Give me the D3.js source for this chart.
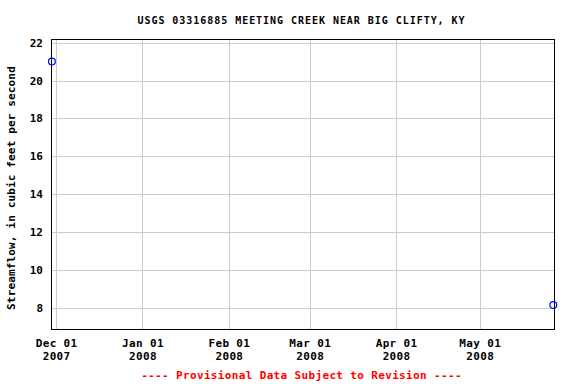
<!DOCTYPE html>
<html><head><meta charset="utf-8">
<script src="https://cdn.jsdelivr.net/npm/d3@7"></script>
<style>body{margin:0;background:#fff}svg{display:block}text{font-family:"DejaVu Sans Mono",monospace;font-weight:bold}</style>
</head><body>
<script>
const title = "USGS 03316885 MEETING CREEK NEAR BIG CLIFTY, KY";
const yLabel = "Streamflow, in cubic feet per second";
const footer = "---- Provisional Data Subject to Revision ----";
const dates = ["2007-11-29T12:00", "2008-05-27T10:00"];
const flows = [21.0, 8.14];
const yTicks = [8, 10, 12, 14, 16, 18, 20, 22];
const xTickDates = ["2007-12-01", "2008-01-01", "2008-02-01", "2008-03-01", "2008-04-01", "2008-05-01"];
const xTickLabels = [["Dec 01","2007"],["Jan 01","2008"],["Feb 01","2008"],["Mar 01","2008"],["Apr 01","2008"],["May 01","2008"]];
const xDomain = ["2007-11-29T04:00", "2008-05-27T16:00"];
const yDomain = [6.875, 22.195];

const W = 576, H = 384;
const m = {l: 51, r: 554, t: 39, b: 329};
const parse = d3.isoParse;
const svg = d3.select("body").append("svg").attr("width", W).attr("height", H);
const x = d3.scaleTime().domain(xDomain.map(parse)).range([m.l, m.r]);
const y = d3.scaleLinear().domain(yDomain).range([m.b, m.t]);

// grid
svg.append("g").selectAll("line.h").data(yTicks).join("line")
  .attr("x1", m.l).attr("x2", m.r).attr("y1", d => Math.round(y(d)) + 0.5).attr("y2", d => Math.round(y(d)) + 0.5)
  .attr("stroke", "#cccccc").attr("stroke-width", 1);
svg.append("g").selectAll("line.v").data(xTickDates).join("line")
  .attr("x1", d => Math.round(x(parse(d))) + 0.5).attr("x2", d => Math.round(x(parse(d))) + 0.5).attr("y1", m.t).attr("y2", m.b)
  .attr("stroke", "#cccccc").attr("stroke-width", 1);

// frame
svg.append("rect").attr("x", m.l + 0.5).attr("y", m.t + 0.5).attr("width", m.r - m.l).attr("height", m.b - m.t)
  .attr("fill", "none").attr("stroke", "#000").attr("stroke-width", 1);

// y axis labels
const yAxis = d3.axisLeft(y).tickValues(yTicks).tickSize(0).tickPadding(8).tickFormat(d3.format("d"));
const gy = svg.append("g").attr("transform", `translate(${m.l},0)`).call(yAxis);
gy.select(".domain").remove();
gy.selectAll("text").style("font-family", '"DejaVu Sans Mono",monospace').style("font-weight", "bold").style("font-size", "11px").attr("fill", "#000");

// x axis labels
const xAxis = d3.axisBottom(x).tickValues(xTickDates.map(parse)).tickSize(0).tickFormat("");
const gx = svg.append("g").attr("transform", `translate(0,${m.b})`).call(xAxis);
gx.select(".domain").remove();
gx.selectAll(".tick").each(function(d, i) {
  const t = d3.select(this).append("text").attr("text-anchor", "middle").attr("fill", "#000")
    .style("font-size", "11px").style("letter-spacing", "0.35px");
  t.append("tspan").attr("x", 0).attr("y", 18).text(xTickLabels[i][0]);
  t.append("tspan").attr("x", 0).attr("y", 31).text(xTickLabels[i][1]);
});

// points
svg.append("g").selectAll("circle").data(dates.map((d, i) => ({d: parse(d), v: flows[i]}))).join("circle")
  .attr("cx", d => x(d.d)).attr("cy", d => y(d.v)).attr("r", 3.4)
  .attr("fill", "none").attr("stroke", "#0000ff").attr("stroke-width", 1.2);

// title
svg.append("text").attr("x", 301.5).attr("y", 24).attr("text-anchor", "middle")
  .style("font-size", "10px").style("letter-spacing", "0.96px").attr("fill", "#000").text(title);
// y label
svg.append("text").attr("transform", `translate(14.5,${188}) rotate(-90)`).attr("text-anchor", "middle")
  .style("font-size", "11px").style("letter-spacing", "0.15px").attr("fill", "#000").text(yLabel);
// footer
svg.append("text").attr("x", 301.5).attr("y", 378.5).attr("text-anchor", "middle")
  .style("font-size", "11px").style("letter-spacing", "0.35px").attr("fill", "#ff0000").text(footer);
</script>
</body></html>
